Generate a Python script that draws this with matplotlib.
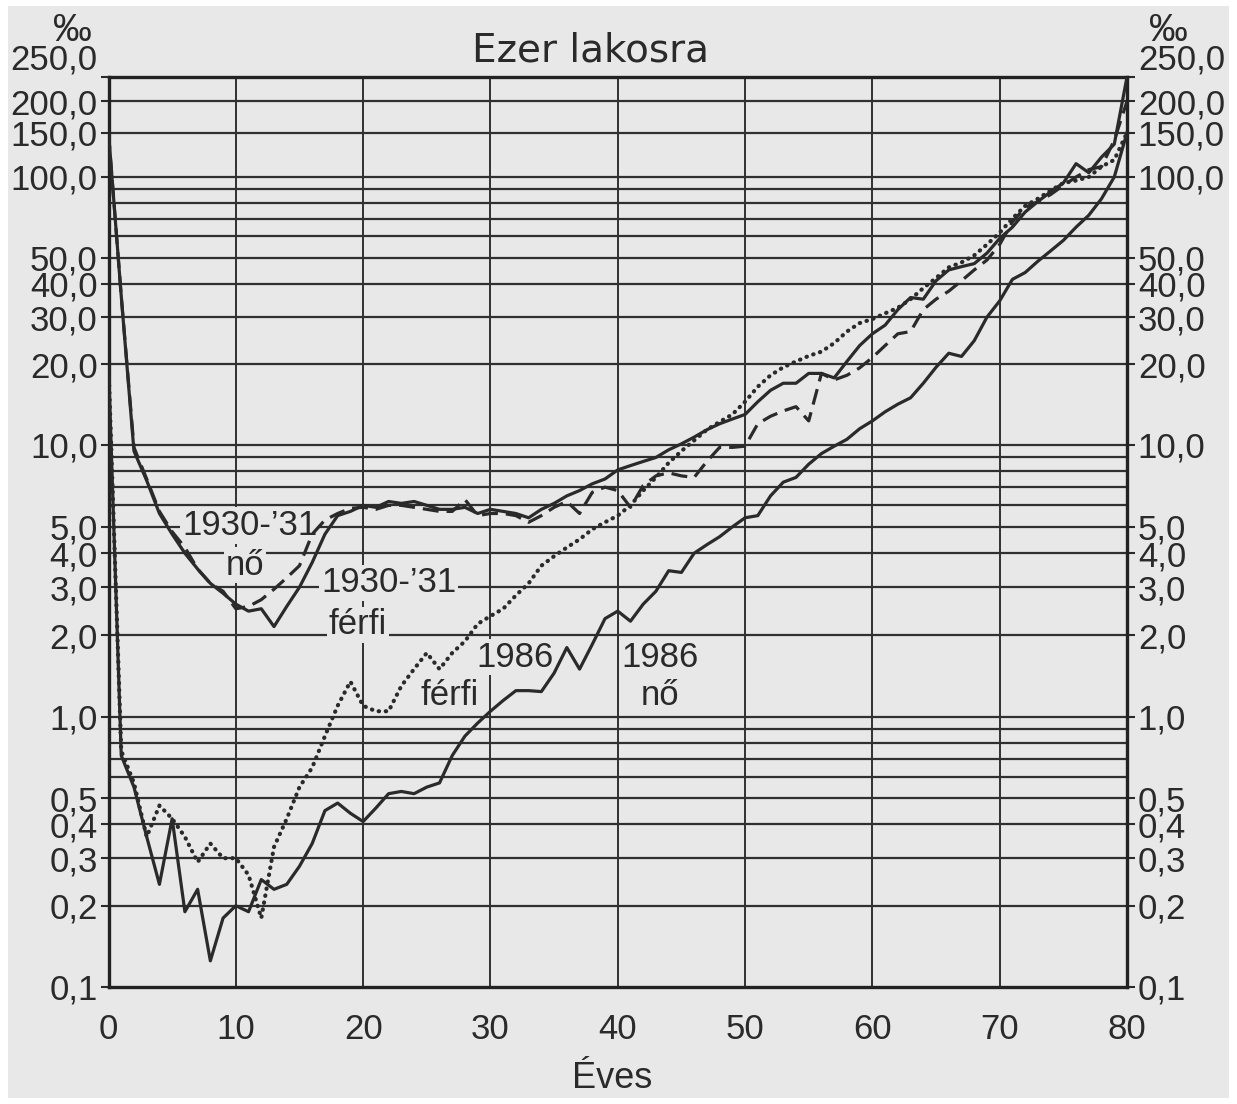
import numpy as np
import matplotlib
matplotlib.use('Agg')
import matplotlib.pyplot as plt
from matplotlib.patches import Rectangle
from matplotlib.ticker import NullLocator

plt.rcParams['font.family'] = ['Liberation Sans', 'DejaVu Sans']

# ---------------- data (per mille, by age) ----------------
ages = list(range(0, 81))

ferfi_1930 = [150, 36, 9.5, 7.4, 5.6, 4.7, 4.0, 3.5, 3.1, 2.85,
              2.6, 2.45, 2.5, 2.15, 2.55, 3.0, 3.7, 4.7, 5.5, 5.7,
              6.0, 5.9, 6.2, 6.1, 6.2, 6.0, 5.8, 5.8, 5.9, 5.6,
              5.8, 5.7, 5.6, 5.4, 5.8, 6.1, 6.5, 6.8, 7.2, 7.5,
              8.1, 8.4, 8.7, 9.0, 9.6, 10.1, 10.7, 11.4, 12.0, 12.5,
              13.0, 14.5, 16.0, 17.0, 17.0, 18.5, 18.5, 17.8, 20.5, 23.5,
              26, 28, 32, 35.5, 35, 41, 45, 46.3, 47.5, 52,
              59, 65, 74, 81, 88, 95, 113, 104, 120, 135,
              250]

no_1930 = [150, 36, 9.8, 7.5, 5.7, 4.8, 4.2, 3.5, 3.1, 2.9,
           2.5, 2.55, 2.7, 2.95, 3.25, 3.6, 4.7, 5.3, 5.6, 5.85,
           5.9, 5.8, 6.0, 6.0, 5.9, 5.8, 5.7, 5.7, 6.3, 5.5,
           5.6, 5.6, 5.5, 5.2, 5.5, 5.9, 6.2, 5.6, 6.7, 7.0,
           6.8, 5.9, 7.1, 7.7, 7.9, 7.7, 7.6, 8.7, 9.8, 9.8,
           9.9, 12.0, 12.8, 13.4, 13.9, 12.3, 18.5, 17.5, 18.2, 19.4,
           21.2, 23.5, 26, 26.5, 32, 35, 37.5, 41, 45, 49,
           56, 68, 77, 81, 86, 93, 100, 107, 110, 140,
           200]

ferfi_1986 = [20, 0.75, 0.57, 0.36, 0.47, 0.42, 0.36, 0.29, 0.34, 0.30,
              0.30, 0.26, 0.18, 0.33, 0.42, 0.55, 0.65, 0.85, 1.1, 1.35,
              1.1, 1.05, 1.05, 1.3, 1.5, 1.72, 1.5, 1.72, 1.9, 2.2,
              2.35, 2.5, 2.8, 3.1, 3.6, 3.9, 4.2, 4.5, 4.9, 5.2,
              5.5, 6.0, 6.8, 7.6, 8.6, 9.5, 10.4, 11.4, 12.2, 13.0,
              14.5, 16.5, 18.2, 19.5, 20.5, 21.5, 22.3, 24, 26.5, 28.5,
              29.5, 31, 32.5, 35, 38.5, 42, 46, 48, 51, 56,
              62, 70, 78, 83, 89, 95, 97, 100, 110, 117,
              150]

no_1986 = [20, 0.72, 0.55, 0.36, 0.24, 0.42, 0.19, 0.23, 0.125, 0.18,
           0.20, 0.19, 0.25, 0.23, 0.24, 0.28, 0.34, 0.45, 0.48, 0.44,
           0.41, 0.46, 0.52, 0.53, 0.52, 0.55, 0.57, 0.72, 0.85, 0.95,
           1.05, 1.15, 1.25, 1.25, 1.24, 1.45, 1.8, 1.5, 1.85, 2.3,
           2.45, 2.25, 2.6, 2.9, 3.45, 3.4, 4.0, 4.3, 4.6, 5.0,
           5.4, 5.5, 6.5, 7.3, 7.6, 8.5, 9.3, 9.9, 10.5, 11.5,
           12.3, 13.3, 14.2, 15, 17, 19.5, 22, 21.4, 24.5, 30,
           34.5, 41.5, 44, 48.5, 53, 58, 65, 72, 83, 100,
           150]

ytick_vals = [0.1, 0.2, 0.3, 0.4, 0.5, 1, 2, 3, 4, 5,
              10, 20, 30, 40, 50, 100, 150, 200, 250]
ytick_labels = ['0,1', '0,2', '0,3', '0,4', '0,5', '1,0', '2,0', '3,0', '4,0', '5,0',
                '10,0', '20,0', '30,0', '40,0', '50,0', '100,0', '150,0', '200,0', '250,0']
grid_vals = [0.2, 0.3, 0.4, 0.5, 0.6, 0.7, 0.8, 0.9, 1, 2, 3, 4, 5, 6, 7, 8, 9,
             10, 20, 30, 40, 50, 60, 70, 80, 90, 100, 150, 200]
xtick_vals = list(range(0, 81, 10))

# ---------------- style ----------------
BG = '#e8e8e8'
LC = '#2a2a2a'
GC = '#303030'
TC = '#2a2a2a'

W, H = 1237, 1104
fig = plt.figure(figsize=(W / 100, H / 100), dpi=100)
fig.patch.set_facecolor('white')
fig.patches.append(Rectangle((8 / W, 6 / H), (1229 - 8) / W, (1098 - 6) / H,
                             transform=fig.transFigure, facecolor=BG,
                             edgecolor='none', zorder=-10))

L, R, T, B = 108.5, 1127, 77, 987
ax = fig.add_axes([L / W, 1 - B / H, (R - L) / W, (B - T) / H])
ax.set_facecolor(BG)

# hand-drawn, nearly logarithmic scale of the original
LOGK = np.array([-3, -1, 0, 1, 2, np.log10(250), 4])
PXK = np.array([-540, 0, 270, 542, 810, 910, 910 + (4 - np.log10(250)) * 251])


def fwd(v):
    v = np.clip(np.asarray(v, dtype=float), 1e-12, None)
    return np.interp(np.log10(v), LOGK, PXK)


def inv(p):
    return 10 ** np.interp(np.asarray(p, dtype=float), PXK, LOGK)


ax.set_yscale('function', functions=(fwd, inv))
ax.set_xlim(0, 80)
ax.set_ylim(0.1, 250)

for v in grid_vals:
    ax.axhline(v, color=GC, lw=1.6, zorder=1)
for a in range(10, 80, 10):
    ax.axvline(a, color=GC, lw=1.4, zorder=1)

ax.plot(ages, ferfi_1930, color=LC, lw=2.3, ls='-', zorder=3,
        solid_joinstyle='round')
ax.plot(ages, no_1930, color=LC, lw=2.3, ls=(0, (5, 2.5)), zorder=3)
ax.plot(ages, ferfi_1986, color=LC, lw=3.0, ls=(0, (0.1, 1.6)),
        dash_capstyle='round', zorder=3)
ax.plot(ages, no_1986, color=LC, lw=2.3, ls='-', zorder=3,
        solid_joinstyle='round')

ax.set_yticks(ytick_vals)
ax.set_yticklabels(ytick_labels)
ax.yaxis.set_minor_locator(NullLocator())
ax.tick_params(axis='y', which='major', direction='out', length=5.8, width=1.5,
               labelsize=25, pad=2, left=True, right=True,
               labelleft=True, labelright=True, colors=TC)
ticks = ax.yaxis.get_major_ticks()
i250 = ytick_vals.index(250)
ticks[i250].label1.set_va('bottom')
ticks[i250].label2.set_va('bottom')

ax.set_xticks(xtick_vals)
ax.set_xticklabels([str(v) for v in xtick_vals])
ax.tick_params(axis='x', length=0, pad=19, labelsize=25, colors=TC)

for s in ax.spines.values():
    s.set_linewidth(2.4)
    s.set_color('#222222')

kw = dict(fontsize=25, ha='center', va='center', color=TC, zorder=2.5,
          bbox=dict(boxstyle='square,pad=0.05', fc=BG, ec='none'))
ax.text(11.1, 5.05, "1930-\u201931", **kw)
ax.text(10.7, 3.62, "nő", **kw)
ax.text(22.0, 3.11, "1930-\u201931", **kw)
ax.text(19.6, 2.18, "férfi", **kw)
ax.text(31.9, 1.66, "1986", **kw)
ax.text(26.8, 1.20, "férfi", **kw)
ax.text(43.3, 1.66, "1986", **kw)
ax.text(43.3, 1.20, "nő", **kw)

fig.text(72 / W, 1 - 31 / H, '‰', fontsize=28, ha='center', va='center', color=TC)
fig.text(1168 / W, 1 - 31 / H, '‰', fontsize=28, ha='center', va='center', color=TC)
fig.text(590 / W, 1 - 50 / H, 'Ezer lakosra', fontsize=28, ha='center', va='center',
         color=TC, family=['DejaVu Sans'])
fig.text(612 / W, 1 - 1078 / H, 'Éves', fontsize=26, ha='center', va='center', color=TC)

fig.savefig('out.png', dpi=100, facecolor='white')
